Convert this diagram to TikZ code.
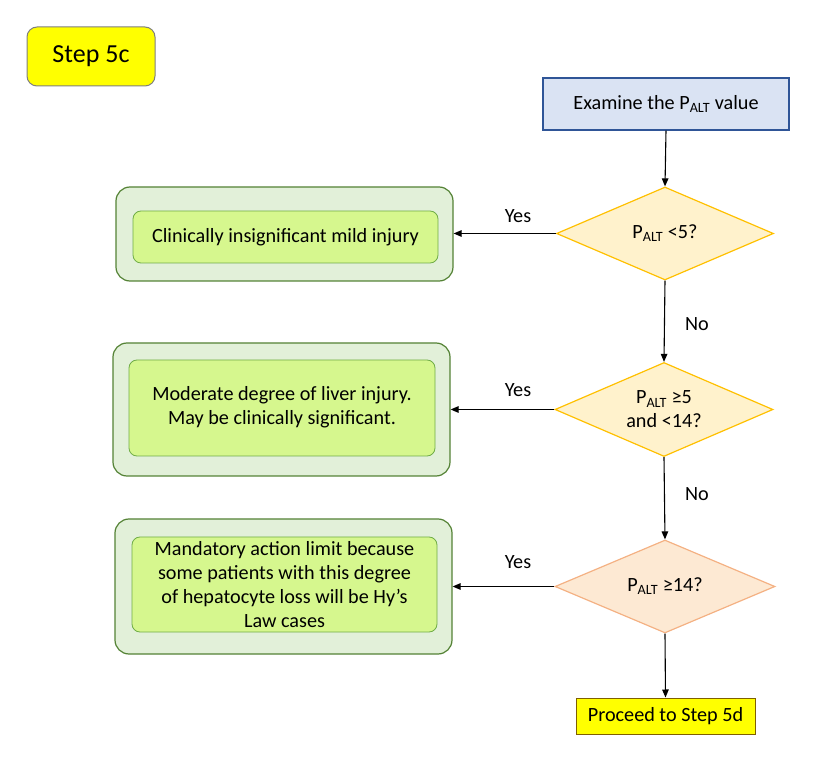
\documentclass[tikz,border=0pt]{standalone}
\usepackage{fontspec}
\setmainfont{Carlito}
\usetikzlibrary{shapes.geometric,arrows.meta}
\definecolor{stepyellow}{HTML}{FFFF00}
\definecolor{stepgray}{HTML}{7F7F7F}
\definecolor{exfill}{HTML}{DAE3F3}
\definecolor{exdraw}{HTML}{2F5597}
\definecolor{dfill}{HTML}{FFF2CC}
\definecolor{ddraw}{HTML}{FFC000}
\definecolor{pfill}{HTML}{FDE9D3}
\definecolor{pdraw}{HTML}{F4B183}
\definecolor{ofill}{HTML}{E2F0D9}
\definecolor{odraw}{HTML}{548235}
\definecolor{ifill}{HTML}{D6F78E}
\definecolor{idraw}{HTML}{70AD47}
\definecolor{prdraw}{HTML}{7F6000}
\tikzset{
  base/.style={font=\fontsize{20.2}{24}\selectfont, inner sep=0pt, align=center},
  outerbox/.style={draw=odraw, fill=ofill, line width=1.2pt, rounded corners=14pt},
  innerbox/.style={base, draw=idraw, fill=ifill, line width=0.8pt, rounded corners=8pt},
  decide/.style={base, diamond, aspect=2.3, line width=1.2pt, minimum width=217pt, minimum height=93pt},
  conn/.style={line width=1.1pt, -{Triangle[length=8pt,width=6.5pt]}},
  lbl/.style={font=\fontsize{20.2}{24}\selectfont, inner sep=0pt}
}
\begin{document}
\begin{tikzpicture}[x=1pt,y=-1pt]
\useasboundingbox (0,0) rectangle (815,759);
% Step label
\node[base, draw=stepgray, fill=stepyellow, line width=1pt, rounded corners=10pt,
  minimum width=128pt, minimum height=59pt, font=\fontsize{26}{30}\selectfont] (step) at (91,56.5) {Step 5c};
% Examine
\node[base, draw=exdraw, fill=exfill, line width=1.2pt, minimum width=246pt, minimum height=52pt] (exam) at (666,104) {\raisebox{-1.5pt}{Examine the P\textsubscript{ALT} value}};
% Diamonds
\node[decide, draw=ddraw, fill=dfill] (d1) at (665,233.5) {P\textsubscript{ALT} <5?};
\node[decide, draw=ddraw, fill=dfill, minimum width=218pt, minimum height=94pt] (d2) at (664,409.5) {P\textsubscript{ALT} ≥5\\and <14?};
\node[decide, draw=pdraw, fill=pfill, minimum width=220pt, minimum height=93pt] (d3) at (665,586.5) {P\textsubscript{ALT} ≥14?};
% Proceed
\node[base, draw=prdraw, fill=stepyellow, line width=1pt, minimum width=179pt, minimum height=36pt] (proc) at (665.5,716) {Proceed to Step 5d};
% Outcome boxes
\node[outerbox, minimum width=337pt, minimum height=94pt] (o1) at (284.5,234) {};
\node[innerbox, minimum width=305pt, minimum height=52pt] (i1) at (285.5,237) {Clinically insignificant mild injury};
\node[outerbox, minimum width=337pt, minimum height=133pt] (o2) at (281.5,409.5) {};
\node[innerbox, minimum width=306pt, minimum height=96pt] (i2) at (282,408) {\raisebox{-1.5pt}{\begin{tabular}{@{}c@{}}Moderate degree of liver injury.\\May be clinically significant.\end{tabular}}};
\node[outerbox, minimum width=337pt, minimum height=135pt] (o3) at (283.5,586.5) {};
\node[innerbox, minimum width=305pt, minimum height=95pt] (i3) at (284.5,584.5) {Mandatory action limit because\\some patients with this degree\\of hepatocyte loss will be Hy’s\\Law cases};
% Connectors
\draw[conn] (exam.south) -- (d1.north);
\draw[conn] (d1.south) -- (d2.north);
\draw[conn] (d2.south) -- (d3.north);
\draw[conn] (d3.south) -- (proc.north);
\draw[conn] (d1.west) -- (o1.east |- d1.west);
\draw[conn] (d2.west) -- (o2.east |- d2.west);
\draw[conn] (d3.west) -- (o3.east |- d3.west);
% Labels
\node[lbl] (y1) at (518,216.5) {Yes};
\node[lbl] (y2) at (518,390.5) {Yes};
\node[lbl] (y3) at (518,562.5) {Yes};
\node[lbl] (n1) at (697,324) {No};
\node[lbl] (n2) at (697,494) {No};
\end{tikzpicture}
\end{document}
